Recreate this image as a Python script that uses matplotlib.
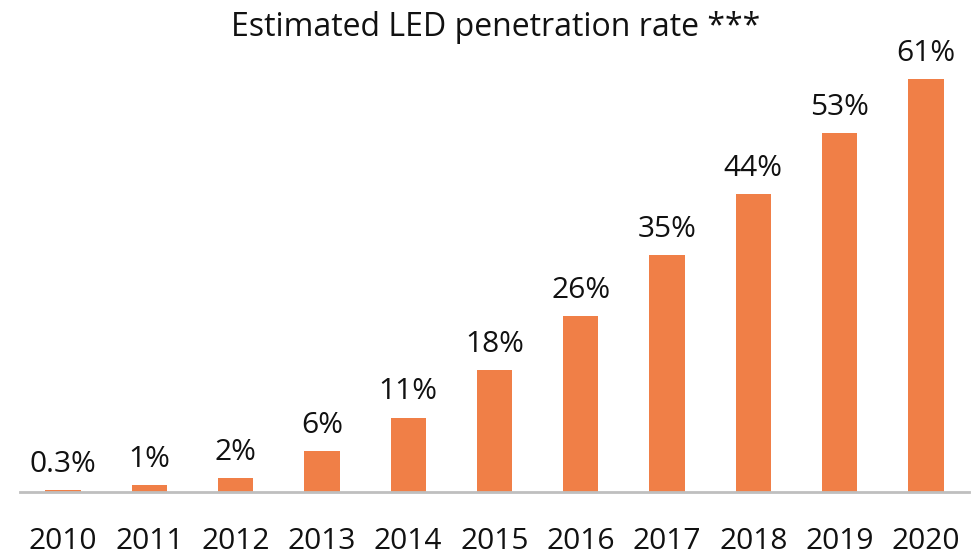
#! /usr/bin/env python3

import matplotlib.pyplot as plt
import numpy as np

plt.rcParams['font.family'] = ['Open Sans', 'DejaVu Sans']

years = ['2010', '2011', '2012', '2013', '2014', '2015',
         '2016', '2017', '2018', '2019', '2020']
rate = [0.3, 1, 2, 6, 11, 18, 26, 35, 44, 53, 61]
labels = ['0.3%', '1%', '2%', '6%', '11%', '18%',
          '26%', '35%', '44%', '53%', '61%']

fig = plt.figure(figsize=(9.77, 5.55), dpi=100)
ax = fig.add_axes([20/977, 63/555, 949/977, 452/555])

x = np.arange(len(years))
bars = ax.bar(x, rate, width=0.41, color='#F07F47')

for b, lab in zip(bars, labels):
    ax.annotate(lab, (b.get_x() + b.get_width()/2, b.get_height()),
                xytext=(0, 8), textcoords='offset points',
                ha='center', va='bottom', fontsize=21.5, color='#111111')

ax.set_xlim(-0.5, len(years) - 0.5)
ax.set_ylim(0, 66.8)
ax.set_xticks(x)
ax.set_xticklabels(years, fontsize=21.5, color='#111111')
ax.tick_params(axis='x', length=0, pad=25)
ax.set_yticks([])

for s in ['top', 'right', 'left']:
    ax.spines[s].set_visible(False)
ax.spines['bottom'].set_color('#BFBFBF')
ax.spines['bottom'].set_linewidth(2)

fig.text(496/977, 1 - 27/555, 'Estimated LED penetration rate ***',
         ha='center', va='center', fontsize=23, color='#111111')

fig.savefig('out.png', dpi=100)
